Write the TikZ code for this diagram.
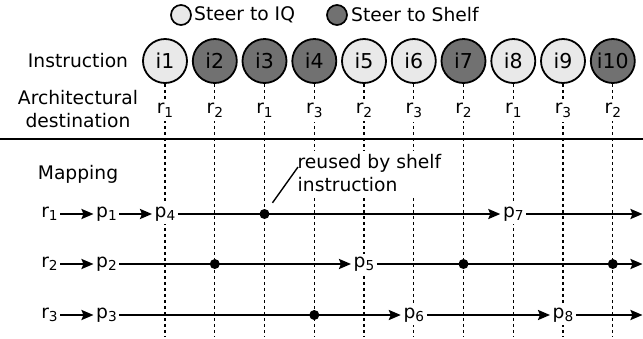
\documentclass[tikz,border=0pt]{standalone}
\usepackage{fontspec}
\setmainfont{DejaVu Sans}
\usetikzlibrary{arrows.meta}
\definecolor{iqgray}{HTML}{E9E9E9}
\definecolor{shelfgray}{HTML}{717171}
\newcommand{\sublabel}[2]{#1\raisebox{-3.5pt}{\fontsize{13.7}{14}\selectfont #2}}
\tikzset{
	instr/.style={circle, draw, line width=1.8pt, minimum size=44pt, inner sep=0pt, font=\fontsize{20.5}{24}\selectfont},
	legdot/.style={circle, draw, line width=1.7pt, minimum size=20pt, inner sep=0pt},
	guide/.style={line width=1.1pt, dash pattern=on 3.5pt off 2.5pt},
	destlabel/.style={fill=white, inner sep=4pt},
	physlabel/.style={fill=white, inner sep=2.5pt},
	maparrow/.style={line width=2.2pt, -{Stealth[length=12pt,width=10pt,inset=2pt]}},
	usedot/.style={circle, fill=black, inner sep=0pt, minimum size=10pt}
}

\begin{document}
\begin{tikzpicture}[x=10pt, y=10pt, font=\fontsize{18.7}{22.4}\selectfont]
		%%%%% START %%%%%
		\useasboundingbox (0, 0) rectangle (64.3, -33.8);
		
		\node[legdot, fill=iqgray] (legiq) at (18.1, -1.5) {};
		\node[anchor=west, inner sep=1pt] (legiqtext) at (19.3, -1.5) {Steer to IQ};
		\node[legdot, fill=shelfgray] (legshelf) at (33.7, -1.5) {};
		\node[anchor=west, inner sep=1pt] (legshelftext) at (35.0, -1.5) {Steer to Shelf};
		
		\node (instrlabel) at (7.8, -6.1) {Instruction};
		\node[align=center] (destlabel) at (7.8, -10.9) {Architectural\\destination};
		\node (maplabel) at (7.8, -17.4) {Mapping};
		
		\node[instr, fill=iqgray] (i1) at (16.50, -6.1) {i1};
		\node[instr, fill=shelfgray] (i2) at (21.48, -6.1) {i2};
		\node[instr, fill=shelfgray] (i3) at (26.45, -6.1) {i3};
		\node[instr, fill=shelfgray] (i4) at (31.43, -6.1) {i4};
		\node[instr, fill=iqgray] (i5) at (36.40, -6.1) {i5};
		\node[instr, fill=iqgray] (i6) at (41.38, -6.1) {i6};
		\node[instr, fill=shelfgray] (i7) at (46.35, -6.1) {i7};
		\node[instr, fill=iqgray] (i8) at (51.33, -6.1) {i8};
		\node[instr, fill=iqgray] (i9) at (56.30, -6.1) {i9};
		\node[instr, fill=shelfgray] (i10) at (61.28, -6.1) {i10};
		
		\coordinate (bottom) at (0, -33.6);
		\draw[guide] (i1.south) -- (i1 |- bottom);
		\draw[guide] (i2.south) -- (i2 |- bottom);
		\draw[guide] (i3.south) -- (i3 |- bottom);
		\draw[guide] (i4.south) -- (i4 |- bottom);
		\draw[guide] (i5.south) -- (i5 |- bottom);
		\draw[guide] (i6.south) -- (i6 |- bottom);
		\draw[guide] (i7.south) -- (i7 |- bottom);
		\draw[guide] (i8.south) -- (i8 |- bottom);
		\draw[guide] (i9.south) -- (i9 |- bottom);
		\draw[guide] (i10.south) -- (i10 |- bottom);
		
		\draw[line width=2pt] (0, -13.9) -- (64.3, -13.9);
		
		\node[destlabel] (d1) at (16.50, -11.05) {\sublabel{r}{1}};
		\node[destlabel] (d2) at (21.48, -11.05) {\sublabel{r}{2}};
		\node[destlabel] (d3) at (26.45, -11.05) {\sublabel{r}{1}};
		\node[destlabel] (d4) at (31.43, -11.05) {\sublabel{r}{3}};
		\node[destlabel] (d5) at (36.40, -11.05) {\sublabel{r}{2}};
		\node[destlabel] (d6) at (41.38, -11.05) {\sublabel{r}{3}};
		\node[destlabel] (d7) at (46.35, -11.05) {\sublabel{r}{2}};
		\node[destlabel] (d8) at (51.33, -11.05) {\sublabel{r}{1}};
		\node[destlabel] (d9) at (56.30, -11.05) {\sublabel{r}{3}};
		\node[destlabel] (d10) at (61.28, -11.05) {\sublabel{r}{2}};
		
		\node[anchor=west, align=left, fill=white, inner sep=4pt] (reuse) at (29.35, -17.3) {reused by shelf\\instruction};
		
		% rows of the mapping
		\node[physlabel] (r1) at (4.95, -21.4) {\sublabel{r}{1}};
		\node[physlabel] (p1) at (10.65, -21.4) {\sublabel{p}{1}};
		\node[physlabel] (p4) at (i1 |- r1) {\sublabel{p}{4}};
		\node[physlabel] (p7) at (i8 |- r1) {\sublabel{p}{7}};
		\coordinate (end1) at (64.25, -21.4);
		
		\node[physlabel] (r2) at (4.95, -26.4) {\sublabel{r}{2}};
		\node[physlabel] (p2) at (10.65, -26.4) {\sublabel{p}{2}};
		\node[physlabel] (p5) at (i5 |- r2) {\sublabel{p}{5}};
		\coordinate (end2) at (64.25, -26.4);
		
		\node[physlabel] (r3) at (4.95, -31.5) {\sublabel{r}{3}};
		\node[physlabel] (p3) at (10.65, -31.5) {\sublabel{p}{3}};
		\node[physlabel] (p6) at (i6 |- r3) {\sublabel{p}{6}};
		\node[physlabel] (p8) at (i9 |- r3) {\sublabel{p}{8}};
		\coordinate (end3) at (64.25, -31.5);
		
		\draw[maparrow] (r1) -- (p1);
		\draw[maparrow] (p1) -- (p4);
		\draw[maparrow] (p4) -- (p7);
		\draw[maparrow] (p7) -- (end1);
		
		\draw[maparrow] (r2) -- (p2);
		\draw[maparrow] (p2) -- (p5);
		\draw[maparrow] (p5) -- (end2);
		
		\draw[maparrow] (r3) -- (p3);
		\draw[maparrow] (p3) -- (p6);
		\draw[maparrow] (p6) -- (p8);
		\draw[maparrow] (p8) -- (end3);
		
		\node[usedot] (s3) at (i3 |- r1) {};
		\node[usedot] (s2) at (i2 |- r2) {};
		\node[usedot] (s7) at (i7 |- r2) {};
		\node[usedot] (s10) at (i10 |- r2) {};
		\node[usedot] (s4) at (i4 |- r3) {};
		
		\coordinate (lead) at (29.8, -16.7);
		\draw[line width=1.4pt, shorten <=8.5pt] (s3) -- (lead);
		
		%%%%% END %%%%%
	\end{tikzpicture}
\end{document}
